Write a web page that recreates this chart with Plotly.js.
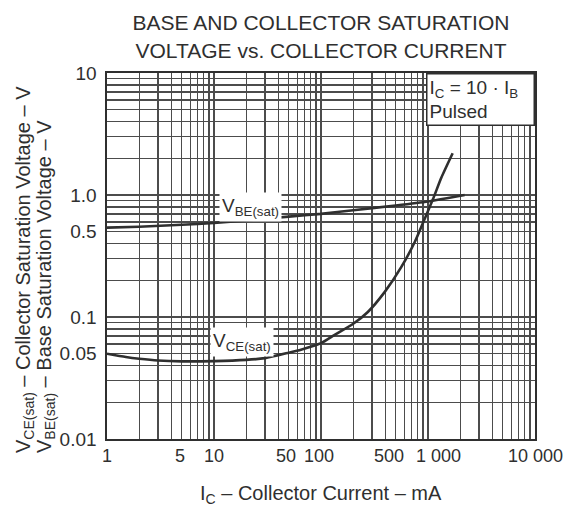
<!DOCTYPE html>
<html>
<head>
<meta charset="utf-8">
<script src="https://cdn.plot.ly/plotly-3.0.1.min.js"></script>
<style>html,body{margin:0;padding:0;background:#fff;}#chart{width:573px;height:506px;}</style>
</head>
<body>
<div id="chart"></div>
<script>
// Collector current (mA) and saturation voltages (V)
const vbeCurrent = [1, 2, 5, 10, 20, 50, 100, 200, 500, 1000, 1500, 2200];
const vbeVoltage = [0.54, 0.55, 0.57, 0.59, 0.62, 0.665, 0.70, 0.75, 0.82, 0.885, 0.94, 1.0];

const vceCurrent = [1, 1.5, 2, 3, 5, 10, 20, 30, 50, 65, 100, 133, 200, 274, 393, 562, 750, 930, 1114, 1334, 1700];
const vceVoltage = [0.050, 0.047, 0.0455, 0.044, 0.0433, 0.0435, 0.0445, 0.046, 0.051, 0.054, 0.061, 0.071, 0.088, 0.11, 0.16, 0.256, 0.41, 0.637, 0.927, 1.39, 2.2];

// labelled ticks and unlabelled minor grid positions
const xTickVals = [1, 5, 10, 50, 100, 500, 1000, 10000];
const xTickText = ["1", "5", "10", "50", "100", "500", "1 000", "10 000"];
const xTickNudge = [0, -2, 0, -3, -2, -7, 10, 0]; // label offsets in px, as printed
const xMinorVals = [2,3,4,6,7,8,9,20,30,40,60,70,80,90,200,300,400,600,700,800,900,2000,3000,4000,5000,6000,7000,8000,9000];
const yTickVals = [0.01, 0.05, 0.1, 0.5, 1, 10];
const yTickText = ["0.01", "0.05", "0.1", "0.5", "1.0", "10"];
const yMinorVals = [0.02,0.03,0.04,0.06,0.07,0.08,0.09,0.2,0.3,0.4,0.6,0.7,0.8,0.9,2,3,4,5,6,7,8,9];

const titleText = "BASE AND COLLECTOR SATURATION<br>VOLTAGE vs. COLLECTOR CURRENT";
const xTitle = "I<sub>C</sub> – Collector Current – mA";
const yTitle1 = "V<sub>CE(sat)</sub> – Collector Saturation Voltage – V";
const yTitle2 = "V<sub>BE(sat)</sub> – Base Saturation Voltage – V";
const condText = "I<sub>C</sub> = 10 · I<sub>B</sub><br>Pulsed";
const vbeLabel = {text: "V<sub>BE(sat)</sub>", x: 22, y: 0.80};
const vceLabel = {text: "V<sub>CE(sat)</sub>", x: 18.3, y: 0.062};

const ink = "#2f2f2f";
const gridInk = "#4c4c4c";
const fam = "Liberation Sans, Arial, sans-serif";

const traces = [
  {x: vbeCurrent, y: vbeVoltage, mode: "lines", line: {color: ink, width: 2.6, shape: "spline", smoothing: 0.6}, hoverinfo: "skip"},
  {x: vceCurrent, y: vceVoltage, mode: "lines", line: {color: ink, width: 2.6, shape: "spline", smoothing: 0.6}, hoverinfo: "skip"}
];

const axisCommon = {
  type: "log", showgrid: true, gridcolor: gridInk, gridwidth: 1.4,
  showline: true, linecolor: ink, linewidth: 1.6, mirror: true,
  zeroline: false, ticks: "", tickmode: "array", tickangle: 0,
  tickfont: {family: fam, size: 19, color: ink}, ticklabelstandoff: 5
};

const xLabelAnns = xTickVals.map((v, i) => ({
  text: xTickText[i], x: Math.log10(v), xref: "x", y: 0, yref: "paper",
  xanchor: "center", yanchor: "top", yshift: -5, xshift: xTickNudge[i], showarrow: false,
  font: {family: fam, size: 18, color: ink}
}));

const layout = {
  width: 573, height: 506,
  margin: {l: 107, r: 38, t: 73, b: 67},
  paper_bgcolor: "#fff", plot_bgcolor: "#fff",
  showlegend: false,
  font: {family: fam, color: ink},
  title: {text: titleText, font: {family: fam, size: 21, color: ink}, x: 0.5, xref: "paper", xanchor: "center", y: 0.94, yref: "container", yanchor: "middle"},
  xaxis: Object.assign({}, axisCommon, {range: [0, 4], tickvals: xTickVals, showticklabels: false,
    minor: {tickmode: "array", tickvals: xMinorVals, showgrid: true, gridcolor: gridInk, gridwidth: 1.4, ticks: ""}}),
  yaxis: Object.assign({}, axisCommon, {range: [-2, 1], tickvals: yTickVals, ticktext: yTickText,
    minor: {tickmode: "array", tickvals: yMinorVals, showgrid: true, gridcolor: gridInk, gridwidth: 1.4, ticks: ""}}),
  annotations: xLabelAnns.concat([
    {text: condText, xref: "paper", yref: "paper", x: 1, y: 1, xanchor: "right", yanchor: "top", align: "left", showarrow: false,
     bgcolor: "#fff", bordercolor: ink, borderwidth: 1.5, borderpad: 2, width: 102, height: 46,
     font: {family: fam, size: 19, color: ink}},
    {text: vbeLabel.text, x: Math.log10(vbeLabel.x), y: Math.log10(vbeLabel.y), xref: "x", yref: "y", showarrow: false,
     bgcolor: "#fff", borderpad: 2, font: {family: fam, size: 19, color: ink}},
    {text: vceLabel.text, x: Math.log10(vceLabel.x), y: Math.log10(vceLabel.y), xref: "x", yref: "y", showarrow: false,
     bgcolor: "#fff", borderpad: 2, font: {family: fam, size: 19, color: ink}},
    {text: xTitle, xref: "paper", yref: "paper", x: 0.5, y: -0.153, xanchor: "center", yanchor: "middle", showarrow: false,
     font: {family: fam, size: 20, color: ink}},
    {text: yTitle1, xref: "paper", yref: "paper", x: -0.193, y: -0.044, xanchor: "center", yanchor: "bottom", textangle: -90, showarrow: false,
     font: {family: fam, size: 20, color: ink}},
    {text: yTitle2, xref: "paper", yref: "paper", x: -0.144, y: -0.044, xanchor: "center", yanchor: "bottom", textangle: -90, showarrow: false,
     font: {family: fam, size: 20, color: ink}}
  ])
};

Plotly.newPlot("chart", traces, layout, {staticPlot: true, displayModeBar: false});
</script>
</body>
</html>
